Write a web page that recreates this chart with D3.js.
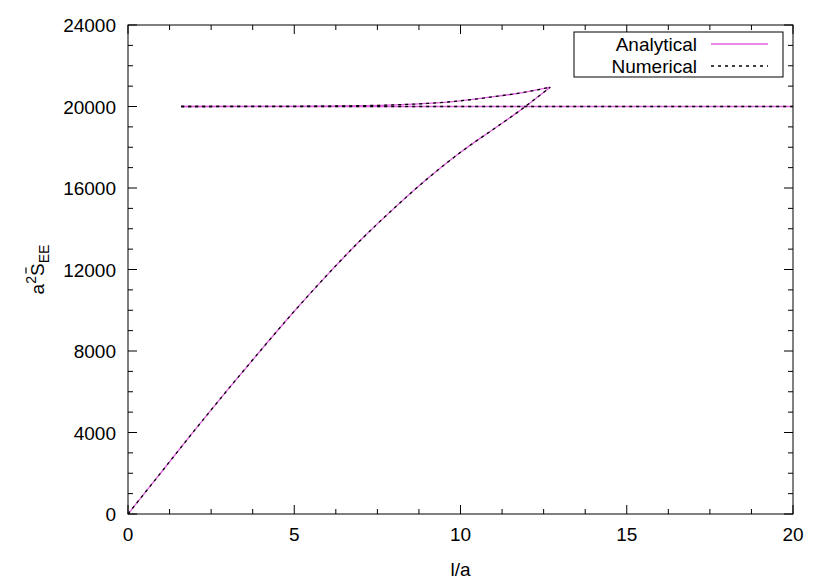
<!DOCTYPE html>
<html><head><meta charset="utf-8">
<script src="https://cdn.jsdelivr.net/npm/d3@7"></script>
<style>body{margin:0;background:#fff}text{font-family:"Liberation Sans",Arial,sans-serif;font-size:19px}</style>
</head><body><svg id="c" width="830" height="581"></svg>
<script>
// lower branch (rising) and upper branch, plus plateau
const lowerX = [0, 1, 2, 3, 4, 5, 6, 7, 8, 9, 10, 11, 11.7, 12.7];
const lowerY = [0, 2050, 4100, 6100, 8050, 9950, 11750, 13450, 15000, 16450, 17750, 18900, 19700, 20950];
const upperX = [1.6, 4, 6, 8, 9, 10, 11, 12, 12.7];
const upperY = [20000, 20005, 20020, 20080, 20150, 20280, 20480, 20720, 20950];
const plateauX = [1.6, 20];
const plateauY = [20000, 20000];
const xTicks = [0, 5, 10, 15, 20];
const yTicks = [0, 4000, 8000, 12000, 16000, 20000, 24000];

const svg = d3.select("#c");
const L = 128, R = 793, T = 25, B = 514;
const x = d3.scaleLinear().domain([0, 20]).range([L, R]);
const y = d3.scaleLinear().domain([0, 24000]).range([B, T]);

const lower = lowerX.map((v, i) => [v, lowerY[i]]);
const upper = upperX.map((v, i) => [v, upperY[i]]);
const flat = plateauX.map((v, i) => [v, plateauY[i]]);
const line = d3.line().x(d => x(d[0])).y(d => y(d[1])).curve(d3.curveMonotoneX);

// ticks
const g = svg.append("g").attr("stroke", "#000").attr("stroke-width", 1);
d3.range(0, 20.01, 1.25).forEach(v => {
  const len = v % 5 === 0 ? 9 : 5;
  g.append("line").attr("x1", x(v)).attr("x2", x(v)).attr("y1", B).attr("y2", B - len);
  g.append("line").attr("x1", x(v)).attr("x2", x(v)).attr("y1", T).attr("y2", T + len);
});
d3.range(0, 24001, 1000).forEach(v => {
  const len = v % 4000 === 0 ? 9 : 5;
  g.append("line").attr("y1", y(v)).attr("y2", y(v)).attr("x1", L).attr("x2", L + len);
  g.append("line").attr("y1", y(v)).attr("y2", y(v)).attr("x1", R).attr("x2", R - len);
});
xTicks.forEach(v => svg.append("text").attr("x", x(v)).attr("y", B + 27).attr("text-anchor", "middle").text(v));
yTicks.forEach(v => svg.append("text").attr("x", L - 12).attr("y", y(v) + 7).attr("text-anchor", "end").text(v));

// series
const draws = [
  {stroke: "#e060e0", dash: null, w: 1.3},
  {stroke: "#000", dash: "3,4", w: 1.3}
];
draws.forEach(s => {
  [lower, upper, flat].forEach(d => {
    svg.append("path").attr("d", line(d)).attr("fill", "none").attr("stroke", s.stroke)
      .attr("stroke-width", s.w).attr("stroke-dasharray", s.dash);
  });
});

svg.append("rect").attr("x", L).attr("y", T).attr("width", R - L).attr("height", B - T)
  .attr("fill", "none").attr("stroke", "#000");

// legend
const lg = svg.append("g");
lg.append("rect").attr("x", 574).attr("y", 32).attr("width", 209).attr("height", 45)
  .attr("fill", "#fff").attr("stroke", "#000");
lg.append("text").attr("x", 697).attr("y", 51).attr("text-anchor", "end").text("Analytical");
lg.append("text").attr("x", 697).attr("y", 73).attr("text-anchor", "end").text("Numerical");
lg.append("line").attr("x1", 711).attr("x2", 768).attr("y1", 44).attr("y2", 44).attr("stroke", "#e060e0").attr("stroke-width", 1.3);
lg.append("line").attr("x1", 711).attr("x2", 768).attr("y1", 66).attr("y2", 66).attr("stroke", "#000").attr("stroke-dasharray", "3,4").attr("stroke-width", 1.3);

// axis titles
svg.append("text").attr("x", x(10)).attr("y", 576).attr("text-anchor", "middle").text("l/a");
const yl = svg.append("g").attr("transform", "translate(44," + ((T + B) / 2) + ") rotate(-90)");
const yt = yl.append("text").attr("text-anchor", "middle");
yt.append("tspan").text("a");
yt.append("tspan").attr("dy", -8).attr("font-size", 14).text("2");
yt.append("tspan").attr("dy", 8).text("S");
yt.append("tspan").attr("dy", 5).attr("font-size", 14).text("EE");
yl.append("line").attr("x1", -4).attr("x2", 2).attr("y1", -18).attr("y2", -18).attr("stroke", "#000").attr("stroke-width", 1.2);
</script></body></html>
